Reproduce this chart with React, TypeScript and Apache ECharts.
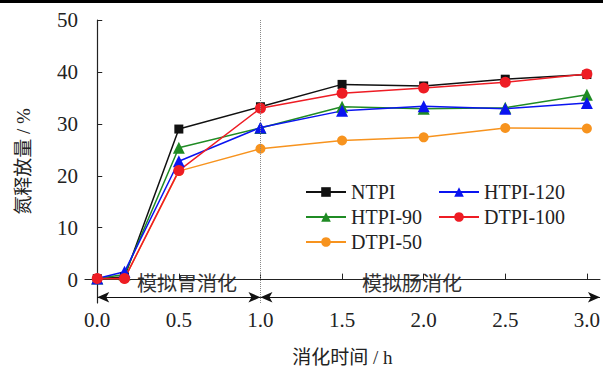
import React, { useEffect, useRef } from "react";
import * as echarts from "echarts";

const times = [0, 0.167, 0.5, 1.0, 1.5, 2.0, 2.5, 3.0];
const ntpi = [0.2, 0.5, 29.0, 33.3, 37.6, 37.3, 38.6, 39.5];
const htpi90 = [0.2, 1.0, 25.4, 29.2, 33.3, 32.9, 33.1, 35.6];
const htpi120 = [0.2, 1.5, 22.8, 29.3, 32.5, 33.4, 32.9, 34.0];
const dtpi100 = [0.2, 0.2, 21.0, 33.0, 35.9, 36.9, 38.0, 39.6];
const dtpi50 = [0.2, 0.2, 20.9, 25.2, 26.8, 27.4, 29.2, 29.1];
const xTicks = [0, 0.5, 1.0, 1.5, 2.0, 2.5, 3.0];
const yTicks = [0, 10, 20, 30, 40, 50];
const phaseLabels = ["模拟胃消化", "模拟肠消化"];

const FONT = "Liberation Serif, Noto Sans CJK SC, serif";

function pair(vals: number[]) {
  return times.map((t, i) => [t, vals[i]]);
}

export default function App() {
  const ref = useRef<HTMLDivElement>(null);
  useEffect(() => {
    if (!ref.current) return;
    const chart = echarts.init(ref.current, null, { renderer: "svg" });
    const mk = (name: string, vals: number[], color: string, symbol: string, size: number, extra: any = {}) => ({
      name,
      type: "line",
      data: pair(vals),
      symbol,
      symbolSize: size,
      itemStyle: { color },
      lineStyle: { color, width: 1.5 },
      ...extra,
    });
    chart.setOption({
      animation: false,
      grid: { left: 85, top: 20, right: 3, bottom: 65 },
      xAxis: {
        type: "value",
        min: -0.075,
        max: 3.08,
        name: "消化时间 / h",
        nameLocation: "middle",
        nameGap: 45,
        nameTextStyle: { fontFamily: FONT, fontSize: 19, color: "#222" },
        axisLine: { show: true, lineStyle: { color: "#222", width: 1.2 } },
        axisTick: { show: true, inside: true, length: 6, customValues: xTicks, lineStyle: { color: "#222" } },
        axisLabel: {
          customValues: xTicks,
          formatter: (v: number) => v.toFixed(1),
          fontFamily: FONT,
          fontSize: 21,
          color: "#222",
          margin: 7,
        },
        splitLine: { show: false },
      },
      yAxis: {
        type: "value",
        min: -4.5,
        max: 50,
        name: "氮释放量 / %",
        nameLocation: "middle",
        nameGap: 52,
        nameTextStyle: { fontFamily: FONT, fontSize: 19, color: "#222" },
        axisLine: { show: true, lineStyle: { color: "#222", width: 1.2 } },
        axisTick: { show: true, inside: true, length: 5, customValues: yTicks, lineStyle: { color: "#222" } },
        axisLabel: { customValues: yTicks, fontFamily: FONT, fontSize: 21, color: "#222", margin: 7 },
        splitLine: { show: false },
      },
      legend: [
        {
          data: ["NTPI", "HTPI-90", "DTPI-50"],
          orient: "vertical",
          left: 305,
          top: 182,
          padding: 0,
          itemWidth: 40,
          itemHeight: 12,
          itemGap: 5,
          textStyle: { fontFamily: FONT, fontSize: 20, color: "#222", lineHeight: 20 },
        },
        {
          data: ["HTPI-120", "DTPI-100"],
          orient: "vertical",
          left: 438,
          top: 182,
          padding: 0,
          itemWidth: 40,
          itemHeight: 12,
          itemGap: 5,
          textStyle: { fontFamily: FONT, fontSize: 20, color: "#222", lineHeight: 20 },
        },
      ],
      graphic: [
        { type: "rect", left: 0, top: 0, shape: { width: 603, height: 3 }, style: { fill: "#000" } },
        {
          type: "text",
          left: 137,
          top: 272,
          style: { text: phaseLabels[0], fontFamily: "Noto Sans CJK SC", fontSize: 20, fill: "#333" },
        },
        {
          type: "text",
          left: 362,
          top: 272,
          style: { text: phaseLabels[1], fontFamily: "Noto Sans CJK SC", fontSize: 20, fill: "#333" },
        },
      ],
      series: [
        mk("DTPI-50", dtpi50, "#f7931e", "circle", 10, {
          markLine: {
            silent: true,
            symbol: ["none", "none"],
            label: { show: false },
            lineStyle: { type: "dotted", color: "#888", width: 1 },
            data: [{ xAxis: 1 }],
          },
        }),
        mk("NTPI", ntpi, "#111111", "rect", 9, {
          markLine: {
            silent: true,
            symbol: ["arrow", "arrow"],
            symbolSize: [8, 12],
            label: { show: false },
            lineStyle: { type: "solid", color: "#111", width: 1.2 },
            data: [
              [{ coord: [0, -3.4] }, { coord: [1, -3.4] }],
              [{ coord: [1, -3.4] }, { coord: [3.08, -3.4] }],
            ],
          },
        }),
        mk("HTPI-90", htpi90, "#1f8b24", "triangle", 12),
        mk("HTPI-120", htpi120, "#0a14f0", "triangle", 12),
        mk("DTPI-100", dtpi100, "#ee1c24", "circle", 11),
      ],
    });
    return () => chart.dispose();
  }, []);
  return <div ref={ref} style={{ position: "fixed", left: 0, top: 0, width: 603, height: 372, background: "#fff" }} />;
}
